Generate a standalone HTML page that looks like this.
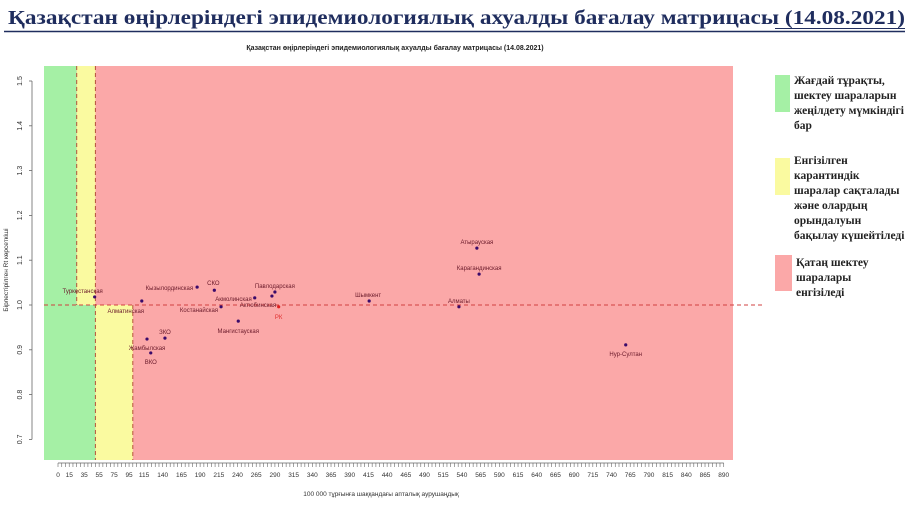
<!DOCTYPE html>
<html><head><meta charset="utf-8">
<style>
body{margin:0;background:#fff;width:915px;height:507px;overflow:hidden;font-family:"Liberation Sans",sans-serif}
svg{display:block}
</style></head>
<body>
<svg id="chart" width="915" height="507" xmlns="http://www.w3.org/2000/svg">
<text x="8" y="24" font-family="Liberation Serif,serif" font-weight="bold" font-size="20.5" fill="#1f2d5e" textLength="897" lengthAdjust="spacingAndGlyphs">Қазақстан өңірлеріндегі эпидемиологиялық ахуалды бағалау матрицасы  (14.08.2021)</text>
<line x1="4" y1="31.5" x2="905" y2="31.5" stroke="#1f2d5e" stroke-width="1.5"/>
<line x1="775" y1="28.5" x2="905" y2="28.5" stroke="#1f2d5e" stroke-width="1"/>
<text x="395" y="50" text-anchor="middle" font-size="7" font-weight="bold" fill="#222">Қазақстан өңірлеріндегі эпидемиологиялық ахуалды бағалау матрицасы  (14.08.2021)</text>
<g id="plot"></g>
<text x="381" y="496" text-anchor="middle" font-size="6.5" fill="#333">100 000 тұрғынға шаққандағы апталық аурушаңдық</text>
<text transform="translate(8,270) rotate(-90)" text-anchor="middle" font-size="6.5" fill="#333">Бірлестірілген Rt көрсеткіші</text>
<g font-family="Liberation Serif,serif" font-weight="bold" font-size="11.5" fill="#222">
<rect x="775" y="75" width="15" height="37" fill="#a5f0a5"/>
<text><tspan x="794" y="84">Жағдай тұрақты,</tspan><tspan x="794" y="99">шектеу шараларын</tspan><tspan x="794" y="114">жеңілдету мүмкіндігі</tspan><tspan x="794" y="129">бар</tspan></text>
<rect x="775" y="158" width="15" height="37" fill="#fafaa0"/>
<text><tspan x="794" y="164">Енгізілген</tspan><tspan x="794" y="179">карантиндік</tspan><tspan x="794" y="194">шаралар сақталады</tspan><tspan x="794" y="209">және олардың</tspan><tspan x="794" y="224">орындалуын</tspan><tspan x="794" y="239">бақылау күшейтіледі</tspan></text>
<rect x="775" y="255" width="17" height="36" fill="#fba8a8"/>
<text><tspan x="796" y="266">Қатаң шектеу</tspan><tspan x="796" y="281">шаралары</tspan><tspan x="796" y="296">енгізіледі</tspan></text>
</g>
</svg>
<script>
const regions=["Туркестанская","Алматинская","Кызылординская","СКО","Акмолинская","Павлодарская","Актюбинская","Костанайская","РК","Мангистауская","ЗКО","Жамбылская","ВКО","Шымкент","Алматы","Атырауская","Карагандинская","Нур-Султан"];
const incidence=[49,112,186,209,263,290,286,218,295,241,143,119,124,416,536,560,563,759];
const rt=[1.018,1.009,1.040,1.033,1.016,1.029,1.020,0.996,0.996,0.964,0.926,0.924,0.893,1.009,0.996,1.127,1.069,0.911];
const xTicks=[0,15,35,55,75,95,115,140,165,190,215,240,265,290,315,340,365,390,415,440,465,490,515,540,565,590,615,640,665,690,715,740,765,790,815,840,865,890];
const yTicks=[0.7,0.8,0.9,1.0,1.1,1.2,1.3,1.4,1.5];
const labelPos={"Туркестанская":[-12,-6,"middle"],"Алматинская":[-16,10,"middle"],"Кызылординская":[-4,1,"end"],"СКО":[-1,-7,"middle"],"Акмолинская":[-3,1,"end"],"Павлодарская":[0,-6,"middle"],"Актюбинская":[-14,9,"middle"],"Костанайская":[-3,3,"end"],"РК":[0,10,"middle"],"Мангистауская":[0,10,"middle"],"ЗКО":[0,-6,"middle"],"Жамбылская":[0,9,"middle"],"ВКО":[0,9,"middle"],"Шымкент":[-1,-6,"middle"],"Алматы":[0,-6,"middle"],"Атырауская":[0,-6,"middle"],"Карагандинская":[0,-6,"middle"],"Нур-Султан":[0,9,"middle"]};
const X=v=>58+v*0.748, Y=v=>305-(v-1)*448;
const NS="http://www.w3.org/2000/svg", g=document.getElementById("plot");
function mk(t,a){const e=document.createElementNS(NS,t);for(const k in a)e.setAttribute(k,a[k]);g.appendChild(e);return e;}
const pTop=66,pBot=460,pL=44,pR=733;
let e;
e=mk("rect",{x:pL,y:pTop,width:pR-pL,height:pBot-pTop,fill:"#fba8a8"});


e=mk("rect",{x:pL,y:pTop,width:X(25)-pL,height:Y(1)-pTop,fill:"#a5f0a5"});


e=mk("rect",{x:X(25),y:pTop,width:X(50)-X(25),height:Y(1)-pTop,fill:"#fafaa0"});


e=mk("rect",{x:pL,y:Y(1),width:X(50)-pL,height:pBot-Y(1),fill:"#a5f0a5"});


e=mk("rect",{x:X(50),y:Y(1),width:X(100)-X(50),height:pBot-Y(1),fill:"#fafaa0"});


const ds={stroke:"#b5523a","stroke-width":1,"stroke-dasharray":"4,3",fill:"none"};
e=mk("line",Object.assign({x1:X(25),y1:pTop,x2:X(25),y2:Y(1)},ds));


e=mk("line",Object.assign({x1:X(50),y1:pTop,x2:X(50),y2:pBot},ds));


e=mk("line",Object.assign({x1:X(100),y1:Y(1),x2:X(100),y2:pBot},ds));


e=mk("line",Object.assign({x1:pL,y1:Y(1),x2:765,y2:Y(1)},ds,{stroke:"#d04040"}));


e=mk("line",{x1:32,y1:Y(1.5),x2:32,y2:Y(0.7),stroke:"#666","stroke-width":0.8});


yTicks.forEach(v=>{
 const t=mk("line",{x1:29,y1:Y(v),x2:32,y2:Y(v),stroke:"#666","stroke-width":0.8});
 
 
 const l=mk("text",{transform:`translate(22,${Y(v)}) rotate(-90)`,"text-anchor":"middle","font-size":7,fill:"#333"});
 l.textContent=v.toFixed(1);
 
 
});
e=mk("line",{x1:X(0),y1:pBot+3,x2:X(890),y2:pBot+3,stroke:"#666","stroke-width":0.8});


for(let v=0;v<=890;v+=5){
 const t=mk("line",{x1:X(v),y1:pBot+3,x2:X(v),y2:pBot+7,stroke:"#666","stroke-width":0.6});
 
 
}
xTicks.forEach(v=>{
 const l=mk("text",{x:X(v),y:pBot+17,"text-anchor":"middle","font-size":6.5,fill:"#333"});
 l.textContent=v;
 
 
});
regions.forEach((r,i)=>{
 const red=r==="РК";
 const c=mk("circle",{cx:X(incidence[i]),cy:Y(rt[i]),r:1.6,fill:red?"#e02020":"#3a0a6a"});
 
 
 const p=labelPos[r]||[0,-6,"middle"];
 const l=mk("text",{x:X(incidence[i])+p[0],y:Y(rt[i])+p[1]+2,"text-anchor":p[2],"font-size":6,fill:red?"#e03030":"#6a1a2a"});
 l.textContent=r;
 
 
});
</script>
</body></html>
